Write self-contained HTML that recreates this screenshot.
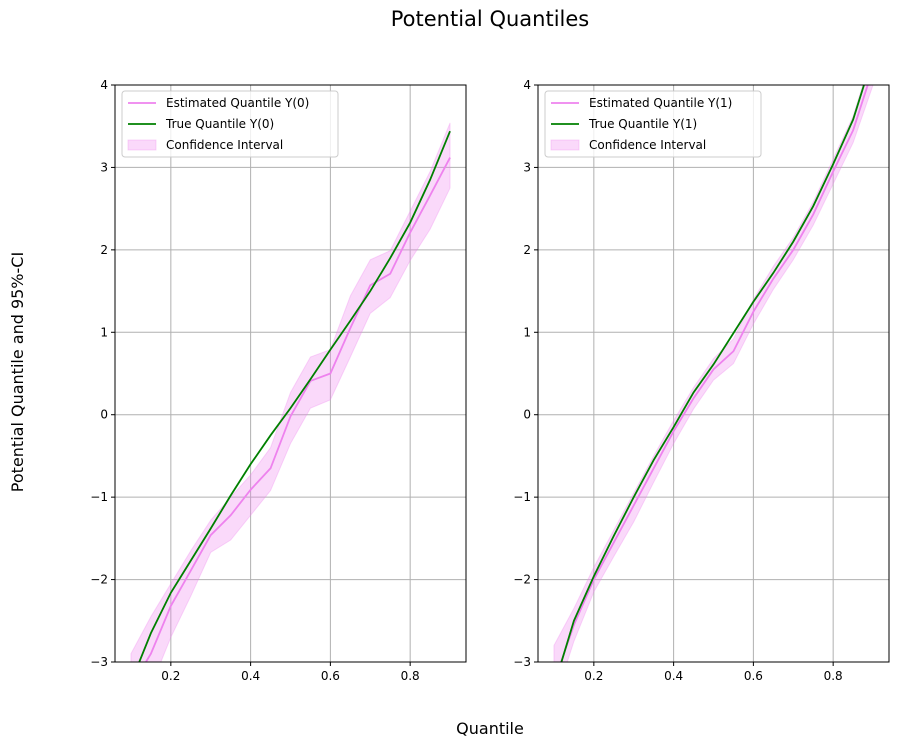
<!DOCTYPE html>
<html><head><meta charset="utf-8"><style>
body{margin:0;background:#fff;font-family:"Liberation Sans","DejaVu Sans",sans-serif;}
svg text{font-family:"DejaVu Sans","Liberation Sans",sans-serif;}
</style></head><body>
<svg id="fig" width="899" height="747" xmlns="http://www.w3.org/2000/svg">
<rect width="899" height="747" fill="#fff"/>
<text x="490" y="26" font-size="21" text-anchor="middle">Potential Quantiles</text>
<text transform="translate(23,372) rotate(-90)" font-size="16" text-anchor="middle">Potential Quantile and 95%-CI</text>
<text x="490" y="734" font-size="16" text-anchor="middle">Quantile</text>
</svg>
<script>
const quantiles=[0.1,0.15,0.2,0.25,0.3,0.35,0.4,0.45,0.5,0.55,0.6,0.65,0.7,0.75,0.8,0.85,0.9];
const est0=[-3.3,-2.9,-2.32,-1.89,-1.46,-1.22,-0.91,-0.65,-0.02,0.41,0.5,1.05,1.57,1.71,2.21,2.66,3.12];
const upper0=[-2.9,-2.45,-2.05,-1.65,-1.28,-1.0,-0.73,-0.4,0.27,0.7,0.79,1.44,1.88,1.99,2.47,2.95,3.54];
const lower0=[-3.6,-3.3,-2.7,-2.2,-1.67,-1.52,-1.22,-0.92,-0.35,0.08,0.18,0.7,1.23,1.42,1.87,2.25,2.75];
const true0=[-3.25,-2.65,-2.16,-1.77,-1.38,-0.98,-0.6,-0.25,0.08,0.43,0.79,1.14,1.5,1.9,2.33,2.85,3.44];
const est1=[-3.25,-2.55,-2.0,-1.55,-1.1,-0.65,-0.2,0.2,0.55,0.77,1.25,1.65,2.0,2.43,2.95,3.45,4.2];
const upper1=[-2.8,-2.35,-1.85,-1.4,-0.95,-0.5,-0.07,0.33,0.68,0.92,1.4,1.8,2.15,2.58,3.1,3.62,4.4];
const lower1=[-3.5,-2.75,-2.15,-1.72,-1.3,-0.82,-0.35,0.07,0.42,0.62,1.1,1.52,1.88,2.3,2.8,3.3,4.0];
const true1=[-3.3,-2.5,-1.96,-1.47,-1.0,-0.55,-0.15,0.27,0.61,0.99,1.37,1.72,2.1,2.53,3.04,3.58,4.35];
const xTicks=[0.2,0.4,0.6,0.8];
const yTicks=[-3,-2,-1,0,1,2,3,4];
const NS="http://www.w3.org/2000/svg";
const svg=document.getElementById('fig');
function mk(tag,attrs,parent){const e=document.createElementNS(NS,tag);for(const k in attrs)e.setAttribute(k,attrs[k]);(parent||svg).appendChild(e);return e;}
function panel(x0,est,up,lo,tr,lbl,id){
  const W=351,y0=85,H=577;
  const sx=v=>x0+(v-0.06)/(0.94-0.06)*W;
  const sy=v=>y0+H-(v+3)/7*H;
  const g=mk('g',{});
  
  
  const cp=mk('clipPath',{id:'c'+id},g);mk('rect',{x:x0,y:y0,width:W,height:H},cp);
  xTicks.forEach(t=>{const l=mk('line',{x1:sx(t),x2:sx(t),y1:y0,y2:y0+H,stroke:'#b0b0b0','stroke-width':1},g);
    
    mk('line',{x1:sx(t),x2:sx(t),y1:y0+H,y2:y0+H+4,stroke:'#000'},g);
    const tx=mk('text',{x:sx(t),y:y0+H+18,'font-size':12,'text-anchor':'middle'},g);tx.textContent=t.toFixed(1);
    });
  yTicks.forEach(t=>{const l=mk('line',{x1:x0,x2:x0+W,y1:sy(t),y2:sy(t),stroke:'#b0b0b0','stroke-width':1},g);
    
    mk('line',{x1:x0-4,x2:x0,y1:sy(t),y2:sy(t),stroke:'#000'},g);
    const tx=mk('text',{x:x0-7,y:sy(t)+4,'font-size':12,'text-anchor':'end'},g);tx.textContent=t<0?'\u2212'+Math.abs(t):t;
    });
  const cg=mk('g',{'clip-path':'url(#c'+id+')'},g);
  let d=quantiles.map((q,i)=>(i?'L':'M')+sx(q)+','+sy(up[i])).join('');
  for(let i=quantiles.length-1;i>=0;i--)d+='L'+sx(quantiles[i])+','+sy(lo[i]);
  const band=mk('path',{d:d+'Z',fill:'#ee82ee','fill-opacity':0.3,stroke:'#ee82ee','stroke-opacity':0.3},cg);
  
  const le=mk('polyline',{points:quantiles.map((q,i)=>sx(q)+','+sy(est[i])).join(' '),fill:'none',stroke:'#ee82ee','stroke-width':1.8},cg);
  
  const lt=mk('polyline',{points:quantiles.map((q,i)=>sx(q)+','+sy(tr[i])).join(' '),fill:'none',stroke:'#008000','stroke-width':1.8},cg);
  
  mk('rect',{x:x0,y:y0,width:W,height:H,fill:'none',stroke:'#000','stroke-width':1},g);
  const lg=mk('g',{},g);
  
  mk('rect',{x:x0+7,y:y0+6,width:216,height:66,rx:3,fill:'#fff','fill-opacity':0.8,stroke:'#ccc'},lg);
  const items=[['Estimated Quantile '+lbl,'#ee82ee','line'],['True Quantile '+lbl,'#008000','line'],['Confidence Interval','#ee82ee','patch']];
  items.forEach((it,i)=>{const yy=y0+18+i*21;
    if(it[2]=='line')mk('line',{x1:x0+13,x2:x0+41,y1:yy,y2:yy,stroke:it[1],'stroke-width':1.8},lg);
    else mk('rect',{x:x0+13,y:yy-5,width:28,height:10,fill:'#ee82ee','fill-opacity':0.3,stroke:'#ee82ee','stroke-opacity':0.3},lg);
    const t=mk('text',{x:x0+51,y:yy+4,'font-size':12},lg);t.textContent=it[0];
    });
}
panel(115,est0,upper0,lower0,true0,'Y(0)','y0');
panel(538,est1,upper1,lower1,true1,'Y(1)','y1');
</script>
</body></html>
